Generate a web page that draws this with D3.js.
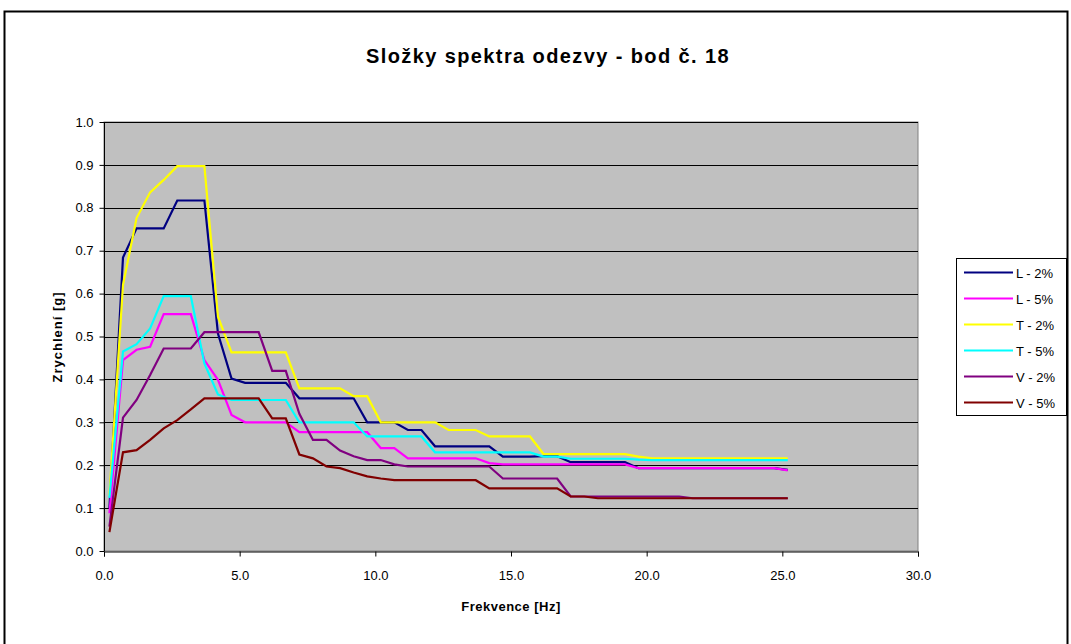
<!DOCTYPE html>
<html>
<head>
<meta charset="utf-8">
<script src="https://cdn.jsdelivr.net/npm/d3@7"></script>
<style>
  html, body { margin: 0; padding: 0; background: #fff; }
  svg { display: block; font-family: Arial, "Liberation Sans", sans-serif; }
</style>
</head>
<body>
<svg id="chart" width="1071" height="644"></svg>
<script>
// Frequencies [Hz]
const freq = [0.2, 0.7, 1.2, 1.7, 2.2, 2.7, 3.2, 3.7, 4.2, 4.7,
  5.2, 5.7, 6.2, 6.7, 7.2, 7.7, 8.2, 8.7, 9.2, 9.7,
  10.2, 10.7, 11.2, 11.7, 12.2, 12.7, 13.2, 13.7, 14.2, 14.7,
  15.2, 15.7, 16.2, 16.7, 17.2, 17.7, 18.2, 18.7, 19.2, 19.7,
  20.2, 20.7, 21.2, 21.7, 22.2, 22.7, 23.2, 23.7, 24.2, 24.7, 25.2];

// Spectral accelerations [g]
const L2 = [0.10, 0.684, 0.752, 0.752, 0.752, 0.817, 0.817, 0.817, 0.507, 0.402,
  0.392, 0.392, 0.392, 0.392, 0.356, 0.356, 0.356, 0.356, 0.356, 0.300,
  0.300, 0.300, 0.282, 0.282, 0.244, 0.244, 0.244, 0.244, 0.244, 0.220,
  0.220, 0.220, 0.221, 0.221, 0.207, 0.207, 0.207, 0.207, 0.207, 0.193,
  0.193, 0.193, 0.193, 0.193, 0.193, 0.193, 0.193, 0.193, 0.193, 0.193, 0.189];
const L5 = [0.088, 0.445, 0.469, 0.476, 0.552, 0.552, 0.552, 0.445, 0.399, 0.317,
  0.300, 0.300, 0.300, 0.300, 0.277, 0.277, 0.277, 0.277, 0.277, 0.277,
  0.240, 0.240, 0.216, 0.216, 0.216, 0.216, 0.216, 0.216, 0.205, 0.202,
  0.202, 0.202, 0.202, 0.202, 0.202, 0.202, 0.202, 0.202, 0.202, 0.193,
  0.193, 0.193, 0.193, 0.193, 0.193, 0.193, 0.193, 0.193, 0.193, 0.193, 0.188];
const T2 = [0.13, 0.62, 0.776, 0.836, 0.865, 0.897, 0.897, 0.897, 0.546, 0.463,
  0.463, 0.463, 0.463, 0.463, 0.379, 0.379, 0.379, 0.379, 0.361, 0.361,
  0.300, 0.300, 0.300, 0.300, 0.300, 0.282, 0.282, 0.282, 0.267, 0.267,
  0.267, 0.267, 0.226, 0.226, 0.226, 0.226, 0.226, 0.226, 0.226, 0.220,
  0.216, 0.216, 0.216, 0.216, 0.216, 0.216, 0.216, 0.216, 0.216, 0.216, 0.216];
const T5 = [0.124, 0.465, 0.482, 0.519, 0.594, 0.594, 0.594, 0.437, 0.365, 0.352,
  0.352, 0.352, 0.352, 0.352, 0.300, 0.300, 0.300, 0.300, 0.300, 0.267,
  0.267, 0.267, 0.267, 0.267, 0.230, 0.230, 0.230, 0.230, 0.230, 0.230,
  0.230, 0.230, 0.220, 0.220, 0.215, 0.215, 0.215, 0.215, 0.215, 0.213,
  0.212, 0.212, 0.212, 0.212, 0.212, 0.212, 0.212, 0.212, 0.212, 0.212, 0.212];
const V2 = [0.057, 0.311, 0.352, 0.410, 0.472, 0.472, 0.472, 0.510, 0.510, 0.510,
  0.510, 0.510, 0.420, 0.420, 0.320, 0.259, 0.259, 0.234, 0.221, 0.212,
  0.212, 0.202, 0.197, 0.197, 0.197, 0.197, 0.197, 0.197, 0.197, 0.169,
  0.169, 0.169, 0.169, 0.169, 0.127, 0.127, 0.127, 0.127, 0.127, 0.127,
  0.127, 0.127, 0.127, 0.123, 0.123, 0.123, 0.123, 0.123, 0.123, 0.123, 0.123];
const V5 = [0.044, 0.230, 0.235, 0.259, 0.286, 0.305, 0.330, 0.356, 0.356, 0.356,
  0.356, 0.356, 0.309, 0.309, 0.225, 0.216, 0.197, 0.193, 0.183, 0.174,
  0.169, 0.165, 0.165, 0.165, 0.165, 0.165, 0.165, 0.165, 0.146, 0.146,
  0.146, 0.146, 0.146, 0.146, 0.127, 0.127, 0.123, 0.123, 0.123, 0.123,
  0.123, 0.123, 0.123, 0.123, 0.123, 0.123, 0.123, 0.123, 0.123, 0.123, 0.123];

const seriesNames = ["L - 2%", "L - 5%", "T - 2%", "T - 5%", "V - 2%", "V - 5%"];
const seriesValues = [L2, L5, T2, T5, V2, V5];
const seriesColors = ["#000080", "#FF00FF", "#FFFF00", "#00FFFF", "#800080", "#800000"];

const xTicks = [0, 5, 10, 15, 20, 25, 30];
const yTicks = [0, 0.1, 0.2, 0.3, 0.4, 0.5, 0.6, 0.7, 0.8, 0.9, 1.0];

const titleText = "Složky spektra odezvy - bod č. 18";
const xTitle = "Frekvence [Hz]";
const yTitle = "Zrychlení [g]";

const svg = d3.select("#chart");

// outer chart frame
svg.append("rect")
  .attr("x", 4.5).attr("y", 11.5)
  .attr("width", 1063).attr("height", 640)
  .attr("fill", "#fff").attr("stroke", "#000").attr("stroke-width", 2);

const plot = { left: 104, top: 122, right: 918, bottom: 551 };

const x = d3.scaleLinear().domain([0, 30]).range([plot.left, plot.right]);
const y = d3.scaleLinear().domain([0, 1]).range([plot.bottom, plot.top]);

// plot area
svg.append("rect")
  .attr("x", plot.left).attr("y", plot.top)
  .attr("width", plot.right - plot.left).attr("height", plot.bottom - plot.top)
  .attr("fill", "#C0C0C0").attr("stroke", "#808080").attr("stroke-width", 1);

// horizontal gridlines
svg.append("g").selectAll("line")
  .data(yTicks.filter(d => d > 0))
  .join("line")
  .attr("x1", plot.left).attr("x2", plot.right)
  .attr("y1", d => Math.round(y(d)) + 0.5).attr("y2", d => Math.round(y(d)) + 0.5)
  .attr("stroke", "#000").attr("stroke-width", 1);

// axes
const yAxis = d3.axisLeft(y).tickValues(yTicks).tickFormat(d3.format(".1f")).tickSize(5).tickPadding(6);
const xAxis = d3.axisBottom(x).tickValues(xTicks).tickFormat(d3.format(".1f")).tickSize(5).tickPadding(14);

const gy = svg.append("g").attr("transform", `translate(${plot.left + 0.5},0)`).call(yAxis);
const gx = svg.append("g").attr("transform", `translate(0,${plot.bottom + 0.5})`).call(xAxis);
[gx, gy].forEach(g => {
  g.selectAll("path").attr("stroke", "#000").attr("stroke-width", 1);
  g.selectAll("line").attr("stroke", "#000");
  g.selectAll("text").attr("font-size", 13).attr("fill", "#000")
    .attr("font-family", "Arial, 'Liberation Sans', sans-serif");
});
gy.select(".domain").attr("d", `M0,${plot.top}V${plot.bottom}`);

// series lines
const line = d3.line().x((d, i) => x(freq[i])).y(d => y(d));
svg.append("g").selectAll("path")
  .data(seriesValues)
  .join("path")
  .attr("d", d => line(d))
  .attr("fill", "none")
  .attr("stroke", (d, i) => seriesColors[i])
  .attr("stroke-width", 2.2)
  .attr("stroke-linejoin", "miter");

// titles
svg.append("text")
  .attr("x", 548).attr("y", 63)
  .attr("text-anchor", "middle")
  .attr("font-size", 20).attr("font-weight", "bold")
  .attr("letter-spacing", 1.4)
  .text(titleText);

svg.append("text")
  .attr("x", 511).attr("y", 611)
  .attr("text-anchor", "middle")
  .attr("font-size", 13).attr("font-weight", "bold")
  .attr("letter-spacing", 0.5)
  .text(xTitle);

svg.append("text")
  .attr("transform", "translate(62,337) rotate(-90)")
  .attr("text-anchor", "middle")
  .attr("font-size", 13).attr("font-weight", "bold")
  .attr("letter-spacing", 1)
  .text(yTitle);

// legend
const legend = svg.append("g");
legend.append("rect")
  .attr("x", 956.5).attr("y", 258.5)
  .attr("width", 110).attr("height", 157)
  .attr("fill", "#fff").attr("stroke", "#000").attr("stroke-width", 1);

const rows = legend.selectAll("g.row")
  .data(seriesNames)
  .join("g")
  .attr("class", "row")
  .attr("transform", (d, i) => `translate(0,${272.5 + i * 26})`);
rows.append("line")
  .attr("x1", 964).attr("x2", 1013)
  .attr("y1", 0).attr("y2", 0)
  .attr("stroke", (d, i) => seriesColors[i])
  .attr("stroke-width", 2);
rows.append("text")
  .attr("x", 1016).attr("y", 5)
  .attr("font-size", 13)
  .text(d => d);
</script>
</body>
</html>
